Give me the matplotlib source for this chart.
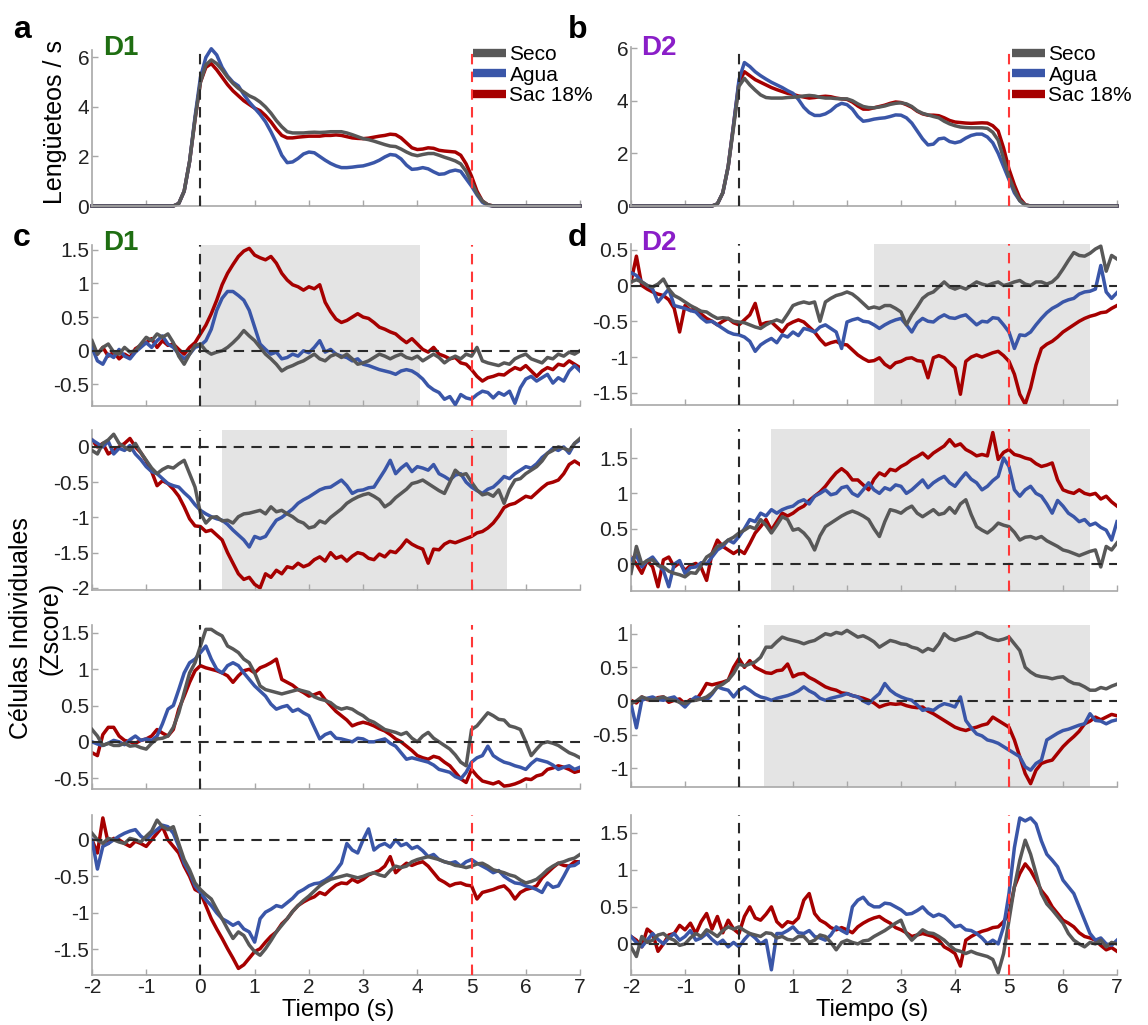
"""Lick rate and single-cell z-score traces for D1 and D2 neurons."""

import matplotlib.pyplot as plt
import numpy as np
from matplotlib.lines import Line2D

plt.rcParams["font.family"] = ["Liberation Sans", "DejaVu Sans"]
plt.rcParams["axes.unicode_minus"] = False

W, H = 1148, 1025

# ---------------------------------------------------------------- lick rates
# time base: -2, then -0.6 .. 5.6 every 0.1 s, then 7
t_lick = np.concatenate(([-2.0], np.round(np.arange(-0.6, 5.65, 0.1), 1), [7.0]))

lick_d1_seco = [
    0.0,
    0.0, 0.0, 0.1, 0.6, 1.8, 3.5, 5.0,
    5.7, 5.9, 5.75, 5.5, 5.2, 4.95, 4.75, 4.6, 4.45, 4.35,
    4.2, 4.0, 3.75, 3.45, 3.2, 3.0, 2.95, 2.95, 2.95, 2.97,
    2.98, 2.97, 2.98, 3.0, 3.0, 3.0, 2.95, 2.88, 2.8, 2.72,
    2.68, 2.62, 2.55, 2.48, 2.42, 2.4, 2.3, 2.18, 2.08, 2.03,
    2.08, 2.12, 2.12, 2.05, 1.97, 1.9, 1.82, 1.7, 1.4, 0.95,
    0.5, 0.2, 0.05, 0.0, 0.0, 0.0,
    0.0,
]
lick_d1_agua = [
    0.0,
    0.0, 0.0, 0.1, 0.6, 1.8, 3.6, 5.2,
    6.0, 6.35, 6.1, 5.6, 5.25, 5.0, 4.85, 4.5, 4.2, 3.95,
    3.7, 3.4, 3.0, 2.55, 2.05, 1.75, 1.78, 1.92, 2.1, 2.18,
    2.15, 2.0, 1.85, 1.72, 1.62, 1.55, 1.55, 1.57, 1.6, 1.62,
    1.68, 1.75, 1.85, 1.98, 2.08, 2.05, 1.9, 1.65, 1.48, 1.5,
    1.55, 1.5, 1.38, 1.28, 1.3, 1.4, 1.45, 1.4, 1.1, 0.8,
    0.45, 0.15, 0.03, 0.0, 0.0, 0.0,
    0.0,
]
lick_d1_sac = [
    0.0,
    0.0, 0.0, 0.1, 0.6, 1.8, 3.5, 5.0,
    5.6, 5.75, 5.5, 5.2, 4.9, 4.65, 4.45, 4.25, 4.1, 3.95,
    3.85, 3.65, 3.4, 3.1, 2.85, 2.75, 2.75, 2.78, 2.8, 2.82,
    2.82, 2.82, 2.85, 2.85, 2.87, 2.85, 2.8, 2.75, 2.73, 2.72,
    2.74, 2.78, 2.82, 2.85, 2.9, 2.88, 2.75, 2.55, 2.35, 2.28,
    2.3, 2.35, 2.33, 2.25, 2.22, 2.2, 2.18, 2.05, 1.7, 1.2,
    0.6, 0.2, 0.05, 0.0, 0.0, 0.0,
    0.0,
]

lick_d2_seco = [
    0.0,
    0.0, 0.0, 0.08, 0.5, 1.5, 3.0, 4.55,
    4.85, 4.6, 4.4, 4.22, 4.12, 4.1, 4.1, 4.1, 4.12, 4.13,
    4.15, 4.18, 4.2, 4.18, 4.13, 4.1, 4.1, 4.08, 4.07, 4.07,
    4.0, 3.88, 3.78, 3.74, 3.73, 3.76, 3.8, 3.86, 3.9, 3.92,
    3.88, 3.78, 3.62, 3.52, 3.46, 3.4, 3.35, 3.22, 3.12, 3.05,
    3.0, 2.98, 2.97, 2.97, 2.97, 2.95, 2.8, 2.5, 1.8, 1.1,
    0.6, 0.2, 0.04, 0.0, 0.0, 0.0,
    0.0,
]
lick_d2_agua = [
    0.0,
    0.0, 0.0, 0.08, 0.5, 1.5, 3.1, 4.8,
    5.45, 5.3, 5.1, 4.95, 4.82, 4.7, 4.6, 4.5, 4.38, 4.28,
    4.05, 3.75, 3.55, 3.44, 3.44, 3.5, 3.62, 3.8, 3.9, 3.85,
    3.68, 3.4, 3.22, 3.25, 3.3, 3.33, 3.35, 3.4, 3.46, 3.45,
    3.35, 3.15, 2.85, 2.55, 2.32, 2.35, 2.55, 2.58, 2.45, 2.4,
    2.45, 2.58, 2.68, 2.73, 2.73, 2.62, 2.4, 2.0, 1.5, 1.0,
    0.5, 0.2, 0.03, 0.0, 0.0, 0.0,
    0.0,
]
lick_d2_sac = [
    0.0,
    0.0, 0.0, 0.08, 0.5, 1.5, 3.1, 4.7,
    5.1, 4.95, 4.8, 4.7, 4.6, 4.5, 4.42, 4.35, 4.28, 4.24,
    4.18, 4.14, 4.1, 4.12, 4.15, 4.17, 4.15, 4.1, 4.07, 4.05,
    3.95, 3.8, 3.68, 3.68, 3.73, 3.78, 3.83, 3.9, 3.95, 3.93,
    3.85, 3.75, 3.6, 3.5, 3.45, 3.45, 3.43, 3.35, 3.25, 3.19,
    3.17, 3.15, 3.14, 3.15, 3.16, 3.15, 3.05, 2.85, 2.2, 1.4,
    0.8, 0.3, 0.05, 0.0, 0.0, 0.0,
    0.0,
]

# ---------------------------------------------------------------- single cells
# z-scores every 0.1 s from -2 to 7 s (one row = 1 s)
t_cell = np.round(np.linspace(-2.0, 7.0, 91), 1)

d1_cell1_seco = [
    0.15, -0.05, 0.05, 0.1, -0.02, -0.05, 0.05, -0.02, 0.0, 0.1,
    0.2, 0.15, 0.25, 0.2, 0.25, 0.12, -0.08, -0.2, -0.05, 0.08,
    0.1, 0.0, -0.05, -0.02, 0.0, 0.05, 0.12, 0.2, 0.3, 0.22,
    0.15, 0.05, -0.05, -0.12, -0.2, -0.3, -0.25, -0.22, -0.18, -0.15,
    -0.1, -0.05, -0.12, -0.15, -0.08, -0.05, -0.1, -0.05, -0.12, -0.2,
    -0.18, -0.15, -0.1, -0.05, -0.08, -0.12, -0.08, -0.05, -0.1, -0.12,
    -0.08, -0.15, -0.1, -0.05, -0.1, -0.18, -0.12, -0.08, -0.12, -0.05,
    -0.08, 0.05, -0.15, -0.18, -0.2, -0.22, -0.18, -0.2, -0.12, -0.08,
    -0.05, -0.12, -0.15, -0.18, -0.1, -0.12, -0.05, -0.08, -0.02, -0.05,
    0.0,
]
d1_cell1_agua = [
    0.05, -0.15, -0.2, -0.05, -0.1, 0.02, -0.08, -0.12, -0.02, 0.05,
    0.12, 0.05, 0.15, 0.22, 0.1, 0.05, -0.05, -0.12, -0.05, 0.05,
    0.08, 0.15, 0.32, 0.6, 0.78, 0.88, 0.88, 0.82, 0.75, 0.6,
    0.35, 0.1, 0.02, -0.05, -0.02, -0.12, -0.1, -0.05, -0.08, 0.0,
    -0.03, 0.05, 0.15, -0.02, 0.02, -0.05, -0.08, -0.1, -0.15, -0.12,
    -0.2, -0.22, -0.25, -0.28, -0.3, -0.32, -0.35, -0.3, -0.28, -0.3,
    -0.35, -0.42, -0.52, -0.58, -0.62, -0.72, -0.68, -0.8, -0.65, -0.7,
    -0.72, -0.65, -0.6, -0.62, -0.7, -0.62, -0.66, -0.6, -0.78, -0.55,
    -0.42, -0.38, -0.45, -0.4, -0.35, -0.48, -0.4, -0.45, -0.3, -0.22,
    -0.3,
]
d1_cell1_sac = [
    0.02, -0.05, 0.05, -0.08, -0.02, -0.12, -0.05, -0.1, 0.03, 0.08,
    0.12, 0.18, 0.05, 0.15, 0.08, 0.1, 0.02, -0.05, 0.05, 0.12,
    0.25, 0.38, 0.55, 0.75, 0.98, 1.15, 1.28, 1.4, 1.48, 1.52,
    1.42, 1.38, 1.35, 1.4, 1.3, 1.15, 1.05, 0.98, 0.95, 0.9,
    0.95, 0.92, 0.98, 0.72, 0.58, 0.47, 0.42, 0.45, 0.5, 0.55,
    0.5, 0.48, 0.42, 0.35, 0.32, 0.28, 0.25, 0.18, 0.12, 0.18,
    0.1, 0.02, -0.02, 0.05, -0.05, -0.08, -0.12, -0.1, -0.18, -0.2,
    -0.28, -0.38, -0.45, -0.4, -0.38, -0.35, -0.36, -0.3, -0.25, -0.28,
    -0.22, -0.3, -0.38, -0.3, -0.25, -0.28, -0.2, -0.22, -0.15, -0.2,
    -0.25,
]

d1_cell2_seco = [
    -0.05, -0.1, 0.05, 0.1, 0.18, 0.05, 0.0, -0.05, 0.05, -0.08,
    -0.19, -0.3, -0.38, -0.32, -0.28, -0.3, -0.24, -0.19, -0.38, -0.57,
    -0.94, -1.08, -1.0, -0.99, -1.05, -1.04, -1.08, -0.99, -0.95, -0.94,
    -0.92, -0.9, -0.95, -0.85, -0.92, -0.9, -0.95, -0.99, -1.05, -1.08,
    -1.15, -1.13, -1.05, -1.08, -1.0, -0.94, -0.88, -0.8, -0.75, -0.71,
    -0.68, -0.66, -0.7, -0.75, -0.85, -0.8, -0.72, -0.66, -0.6, -0.52,
    -0.5, -0.47, -0.52, -0.57, -0.62, -0.66, -0.5, -0.33, -0.4, -0.38,
    -0.5, -0.61, -0.68, -0.66, -0.7, -0.61, -0.8, -0.6, -0.47, -0.45,
    -0.38, -0.33, -0.28, -0.2, -0.09, -0.05, 0.0, -0.02, -0.05, 0.05,
    0.12,
]
d1_cell2_agua = [
    0.1, 0.05, 0.0, 0.08, -0.1, -0.02, -0.05, 0.02, -0.1, -0.18,
    -0.28, -0.35, -0.38, -0.45, -0.52, -0.55, -0.57, -0.65, -0.72, -0.82,
    -0.9, -0.95, -0.99, -1.02, -1.04, -1.1, -1.18, -1.25, -1.32, -1.42,
    -1.27, -1.3, -1.27, -1.15, -1.04, -1.0, -0.94, -0.88, -0.8, -0.75,
    -0.71, -0.66, -0.61, -0.58, -0.57, -0.52, -0.47, -0.55, -0.66, -0.62,
    -0.61, -0.58, -0.57, -0.45, -0.33, -0.19, -0.38, -0.3, -0.24, -0.35,
    -0.28, -0.3, -0.33, -0.25, -0.38, -0.42, -0.47, -0.4, -0.38, -0.5,
    -0.57, -0.62, -0.66, -0.6, -0.57, -0.5, -0.42, -0.45, -0.38, -0.33,
    -0.28, -0.3, -0.24, -0.15, -0.09, -0.02, -0.05, 0.0, -0.09, 0.05,
    0.1,
]
d1_cell2_sac = [
    0.1, 0.0, 0.05, -0.1, -0.05, 0.0, 0.05, 0.12, 0.0, -0.08,
    -0.2, -0.35, -0.55, -0.48, -0.52, -0.6, -0.7, -0.85, -1.02, -1.12,
    -1.13, -1.2, -1.18, -1.25, -1.32, -1.5, -1.65, -1.8, -1.88, -1.85,
    -1.95, -2.0, -1.8, -1.85, -1.75, -1.8, -1.7, -1.72, -1.65, -1.7,
    -1.67, -1.6, -1.56, -1.62, -1.5, -1.58, -1.55, -1.62, -1.55, -1.5,
    -1.52, -1.58, -1.6, -1.52, -1.56, -1.48, -1.5, -1.42, -1.32, -1.38,
    -1.42, -1.45, -1.65, -1.45, -1.46, -1.38, -1.34, -1.36, -1.33, -1.3,
    -1.27, -1.22, -1.2, -1.15, -1.08, -0.98, -0.86, -0.82, -0.8, -0.75,
    -0.7, -0.72, -0.65, -0.58, -0.52, -0.5, -0.47, -0.38, -0.25, -0.2,
    -0.25,
]

d1_cell3_seco = [
    0.17, 0.08, -0.05, -0.02, -0.05, -0.05, -0.02, -0.06, -0.05, -0.08,
    -0.1, -0.02, 0.04, 0.05, 0.08, 0.2, 0.4, 0.68, 0.95, 1.09,
    1.32, 1.55, 1.55, 1.5, 1.46, 1.32, 1.28, 1.23, 1.14, 1.09,
    0.95, 0.77, 0.72, 0.7, 0.68, 0.66, 0.68, 0.7, 0.72, 0.7,
    0.68, 0.62, 0.59, 0.57, 0.54, 0.48, 0.45, 0.47, 0.45, 0.4,
    0.36, 0.3, 0.27, 0.22, 0.17, 0.15, 0.13, 0.1, 0.13, 0.05,
    0.0, 0.08, 0.13, 0.05, 0.0, -0.05, -0.1, -0.18, -0.28, -0.33,
    0.17, 0.22, 0.31, 0.4, 0.36, 0.31, 0.3, 0.22, 0.2, 0.17,
    0.0, -0.19, -0.1, -0.02, 0.0, -0.02, -0.05, -0.1, -0.15, -0.18,
    -0.22,
]
d1_cell3_agua = [
    0.0, -0.03, -0.05, -0.02, 0.02, 0.0, -0.04, 0.03, 0.08, 0.02,
    0.04, 0.02, 0.08, 0.25, 0.45, 0.5, 0.72, 0.95, 1.09, 1.14,
    1.23, 1.32, 1.14, 1.0, 0.95, 1.05, 1.09, 1.05, 0.95, 0.86,
    0.77, 0.7, 0.63, 0.52, 0.45, 0.48, 0.5, 0.42, 0.45, 0.4,
    0.36, 0.2, 0.04, 0.1, 0.13, 0.05, 0.04, 0.02, 0.0, 0.05,
    0.04, 0.0, 0.0, 0.02, 0.04, -0.02, -0.06, -0.15, -0.24, -0.22,
    -0.24, -0.26, -0.28, -0.32, -0.38, -0.4, -0.42, -0.48, -0.51, -0.42,
    -0.28, -0.22, -0.19, -0.06, -0.19, -0.24, -0.28, -0.3, -0.33, -0.35,
    -0.38, -0.3, -0.24, -0.26, -0.28, -0.32, -0.38, -0.35, -0.33, -0.38,
    -0.35,
]
d1_cell3_sac = [
    -0.15, -0.19, 0.1, 0.2, 0.2, 0.08, 0.02, 0.0, -0.02, 0.02,
    0.04, 0.08, 0.17, 0.12, 0.08, 0.17, 0.45, 0.63, 0.82, 0.98,
    1.05, 1.02, 1.0, 0.98, 0.95, 0.91, 0.82, 0.91, 0.98, 1.0,
    0.95, 1.02, 1.05, 1.09, 1.14, 0.86, 0.82, 0.78, 0.72, 0.68,
    0.63, 0.65, 0.68, 0.58, 0.5, 0.42, 0.36, 0.3, 0.22, 0.25,
    0.27, 0.25, 0.22, 0.18, 0.15, 0.1, 0.04, 0.0, -0.06, -0.12,
    -0.19, -0.22, -0.24, -0.2, -0.22, -0.28, -0.33, -0.42, -0.51, -0.56,
    -0.38, -0.47, -0.54, -0.56, -0.58, -0.55, -0.61, -0.6, -0.58, -0.55,
    -0.51, -0.52, -0.47, -0.45, -0.38, -0.36, -0.33, -0.35, -0.38, -0.42,
    -0.4,
]

d1_cell4_seco = [
    0.09, 0.0, -0.05, 0.02, 0.0, -0.03, -0.05, 0.02, 0.0, -0.03,
    0.05, 0.12, 0.27, 0.18, 0.14, 0.18, -0.05, -0.27, -0.41, -0.59,
    -0.68, -0.75, -0.81, -0.95, -1.08, -1.22, -1.35, -1.26, -1.31, -1.44,
    -1.53, -1.58, -1.49, -1.38, -1.26, -1.17, -1.08, -0.98, -0.9, -0.83,
    -0.77, -0.7, -0.63, -0.58, -0.54, -0.52, -0.5, -0.48, -0.5, -0.52,
    -0.5, -0.47, -0.45, -0.48, -0.5, -0.42, -0.36, -0.38, -0.36, -0.3,
    -0.27, -0.25, -0.23, -0.25, -0.27, -0.3, -0.32, -0.35, -0.36, -0.38,
    -0.36, -0.33, -0.32, -0.36, -0.41, -0.43, -0.45, -0.48, -0.5, -0.55,
    -0.59, -0.57, -0.54, -0.48, -0.41, -0.36, -0.32, -0.3, -0.27, -0.25,
    -0.2,
]
d1_cell4_agua = [
    0.0, -0.4, -0.09, -0.05, 0.0, 0.05, 0.09, 0.12, 0.14, 0.05,
    0.0, 0.08, 0.14, 0.2, 0.18, 0.09, -0.09, -0.32, -0.45, -0.63,
    -0.72, -0.82, -0.9, -1.0, -1.08, -1.12, -1.17, -1.13, -1.22, -1.26,
    -1.4, -1.08, -0.99, -0.95, -0.9, -0.92, -0.86, -0.8, -0.72, -0.68,
    -0.63, -0.6, -0.59, -0.55, -0.5, -0.42, -0.32, -0.05, -0.14, -0.18,
    0.0, 0.15, -0.14, -0.08, -0.05, -0.1, 0.0, -0.08, -0.05, -0.12,
    -0.09, -0.15, -0.23, -0.2, -0.27, -0.3, -0.32, -0.3, -0.36, -0.3,
    -0.27, -0.32, -0.36, -0.4, -0.45, -0.42, -0.5, -0.55, -0.59, -0.6,
    -0.63, -0.65, -0.68, -0.72, -0.59, -0.65, -0.63, -0.5, -0.36, -0.35,
    -0.3,
]
d1_cell4_sac = [
    0.0, -0.18, 0.3, -0.05, 0.02, 0.0, -0.05, -0.09, -0.02, -0.05,
    -0.09, 0.0, 0.09, 0.18, 0.0, -0.09, -0.18, -0.36, -0.5, -0.68,
    -0.72, -0.9, -1.08, -1.22, -1.35, -1.49, -1.62, -1.76, -1.71, -1.62,
    -1.53, -1.49, -1.4, -1.32, -1.26, -1.15, -1.08, -0.98, -0.9, -0.85,
    -0.81, -0.78, -0.72, -0.75, -0.68, -0.62, -0.59, -0.6, -0.54, -0.58,
    -0.54, -0.48, -0.45, -0.42, -0.36, -0.23, -0.45, -0.38, -0.32, -0.35,
    -0.32, -0.3, -0.36, -0.45, -0.54, -0.58, -0.63, -0.6, -0.59, -0.62,
    -0.63, -0.81, -0.72, -0.7, -0.68, -0.65, -0.63, -0.7, -0.81, -0.72,
    -0.68, -0.66, -0.63, -0.52, -0.45, -0.38, -0.32, -0.35, -0.36, -0.3,
    -0.3,
]

d2_cell1_seco = [
    0.05, 0.08, 0.05, 0.0, -0.02, 0.02, 0.09, -0.05, -0.14, -0.18,
    -0.23, -0.28, -0.32, -0.36, -0.37, -0.42, -0.46, -0.45, -0.46, -0.5,
    -0.51, -0.52, -0.55, -0.58, -0.6, -0.55, -0.51, -0.48, -0.51, -0.4,
    -0.28, -0.25, -0.23, -0.25, -0.23, -0.5, -0.23, -0.18, -0.14, -0.12,
    -0.09, -0.12, -0.18, -0.25, -0.32, -0.3, -0.32, -0.28, -0.28, -0.32,
    -0.37, -0.55, -0.41, -0.3, -0.18, -0.12, -0.09, -0.02, 0.05, -0.02,
    -0.05, -0.02, -0.05, 0.0, 0.05, 0.02, 0.0, 0.03, 0.05, 0.0,
    0.02, 0.05, 0.07, 0.02, 0.0, 0.05, 0.05, 0.02, 0.05, 0.12,
    0.23, 0.35, 0.46, 0.42, 0.41, 0.45, 0.51, 0.55, 0.2, 0.42,
    0.37,
]
d2_cell1_agua = [
    0.18, 0.14, 0.05, 0.0, -0.05, -0.23, -0.14, -0.05, -0.28, -0.3,
    -0.32, -0.35, -0.37, -0.45, -0.51, -0.5, -0.55, -0.6, -0.65, -0.68,
    -0.69, -0.72, -0.78, -0.92, -0.83, -0.78, -0.74, -0.8, -0.69, -0.72,
    -0.65, -0.7, -0.6, -0.62, -0.65, -0.58, -0.55, -0.6, -0.65, -0.88,
    -0.51, -0.48, -0.46, -0.5, -0.51, -0.55, -0.6, -0.55, -0.51, -0.48,
    -0.46, -0.55, -0.65, -0.52, -0.46, -0.5, -0.51, -0.45, -0.41, -0.45,
    -0.46, -0.43, -0.41, -0.48, -0.55, -0.5, -0.51, -0.45, -0.46, -0.55,
    -0.65, -0.88, -0.69, -0.7, -0.65, -0.55, -0.46, -0.38, -0.32, -0.28,
    -0.23, -0.2, -0.18, -0.12, -0.09, -0.08, -0.05, 0.28, -0.09, -0.18,
    -0.1,
]
d2_cell1_sac = [
    0.05, 0.41, 0.0, -0.05, -0.09, -0.12, -0.14, -0.2, -0.32, -0.65,
    -0.28, -0.35, -0.32, -0.4, -0.46, -0.5, -0.55, -0.5, -0.46, -0.52,
    -0.55, -0.48, -0.41, -0.25, -0.55, -0.52, -0.51, -0.58, -0.65, -0.55,
    -0.51, -0.48, -0.51, -0.58, -0.65, -0.75, -0.83, -0.8, -0.78, -0.82,
    -0.83, -0.9, -0.97, -1.02, -1.06, -1.05, -1.01, -1.1, -1.15, -1.08,
    -1.06, -1.02, -1.01, -1.05, -1.06, -1.29, -1.01, -0.98, -1.01, -1.08,
    -1.15, -1.52, -1.06, -1.0, -0.97, -1.0, -0.97, -0.94, -0.92, -0.98,
    -1.06, -1.24, -1.52, -1.66, -1.43, -1.11, -0.88, -0.82, -0.78, -0.72,
    -0.65, -0.6, -0.55, -0.5, -0.46, -0.43, -0.41, -0.38, -0.37, -0.32,
    -0.28,
]

d2_cell2_seco = [
    -0.13, 0.25, 0.0, 0.05, 0.06, -0.02, -0.04, -0.1, -0.13, -0.15,
    -0.18, -0.12, -0.13, -0.02, 0.1, 0.15, 0.25, 0.28, 0.34, 0.38,
    0.44, 0.48, 0.53, 0.5, 0.63, 0.55, 0.44, 0.55, 0.67, 0.63,
    0.48, 0.5, 0.44, 0.35, 0.2, 0.4, 0.53, 0.58, 0.63, 0.68,
    0.72, 0.75, 0.72, 0.68, 0.63, 0.5, 0.39, 0.6, 0.77, 0.75,
    0.72, 0.78, 0.82, 0.72, 0.67, 0.72, 0.77, 0.7, 0.72, 0.8,
    0.72, 0.85, 0.91, 0.7, 0.53, 0.48, 0.44, 0.5, 0.58, 0.55,
    0.53, 0.45, 0.34, 0.38, 0.39, 0.36, 0.39, 0.33, 0.29, 0.25,
    0.2, 0.18, 0.15, 0.12, 0.15, 0.18, 0.2, -0.04, 0.25, 0.2,
    0.3,
]
d2_cell2_agua = [
    0.06, 0.12, -0.04, 0.05, 0.1, 0.0, -0.09, -0.32, 0.0, 0.05,
    -0.13, -0.05, -0.04, 0.02, 0.0, 0.1, 0.2, 0.25, 0.34, 0.3,
    0.39, 0.5, 0.63, 0.6, 0.72, 0.68, 0.77, 0.72, 0.77, 0.8,
    0.82, 0.88, 0.91, 0.85, 0.96, 1.0, 1.05, 0.98, 1.0, 1.08,
    1.1, 1.0, 0.96, 1.05, 1.15, 1.05, 1.0, 1.08, 1.05, 1.12,
    1.1, 1.0, 1.05, 1.12, 1.19, 1.08, 1.15, 1.2, 1.24, 1.15,
    1.1, 1.2, 1.29, 1.2, 1.15, 1.05, 1.1, 1.18, 1.24, 1.5,
    1.38, 1.05, 0.96, 1.05, 1.1, 1.0, 0.96, 0.85, 0.72, 0.9,
    0.82, 0.72, 0.67, 0.6, 0.63, 0.55, 0.58, 0.52, 0.48, 0.34,
    0.6,
]
d2_cell2_sac = [
    0.1, 0.0, -0.13, 0.05, -0.04, -0.32, 0.06, 0.1, -0.04, 0.02,
    -0.09, -0.02, 0.01, -0.05, -0.23, 0.15, 0.34, 0.25, 0.2, 0.15,
    0.2, 0.15, 0.29, 0.44, 0.53, 0.63, 0.48, 0.6, 0.72, 0.68,
    0.72, 0.78, 0.82, 0.9, 0.96, 1.02, 1.1, 1.2, 1.29, 1.35,
    1.29, 1.19, 1.19, 1.12, 1.05, 1.2, 1.29, 1.25, 1.34, 1.32,
    1.38, 1.42, 1.48, 1.52, 1.57, 1.5, 1.57, 1.62, 1.67, 1.76,
    1.67, 1.7, 1.62, 1.58, 1.53, 1.55, 1.53, 1.86, 1.48, 1.58,
    1.62, 1.55, 1.53, 1.5, 1.48, 1.42, 1.38, 1.4, 1.43, 1.19,
    1.05, 1.02, 1.0, 1.05, 1.0, 0.98, 1.0, 0.92, 0.96, 0.88,
    0.82,
]

d2_cell3_seco = [
    -0.04, 0.0, 0.06, 0.03, 0.01, 0.04, 0.06, 0.02, 0.01, -0.02,
    -0.04, 0.0, 0.01, 0.03, 0.06, 0.12, 0.21, 0.25, 0.31, 0.41,
    0.55, 0.52, 0.55, 0.58, 0.65, 0.8, 0.8, 0.88, 0.95, 0.92,
    0.9, 0.88, 0.85, 0.88, 0.9, 0.95, 1.0, 0.98, 1.02, 1.0,
    1.05, 1.0, 0.95, 0.97, 0.93, 0.88, 0.8, 0.85, 0.9, 0.88,
    0.85, 0.84, 0.8, 0.78, 0.73, 0.78, 0.75, 0.85, 1.0, 0.93,
    0.9, 0.93, 0.95, 0.98, 1.02, 1.0, 0.95, 0.92, 0.9, 0.92,
    0.95, 0.85, 0.75, 0.5, 0.43, 0.38, 0.36, 0.35, 0.33, 0.35,
    0.36, 0.3, 0.26, 0.25, 0.21, 0.16, 0.16, 0.2, 0.18, 0.22,
    0.25,
]
d2_cell3_agua = [
    -0.04, -0.4, 0.01, 0.04, 0.06, 0.02, 0.01, 0.04, 0.06, -0.02,
    -0.09, 0.0, 0.06, 0.03, 0.01, 0.1, 0.21, 0.18, 0.16, 0.06,
    0.16, 0.21, 0.16, 0.1, 0.06, 0.04, 0.01, 0.04, 0.06, 0.08,
    0.11, 0.15, 0.21, 0.15, 0.11, 0.04, 0.01, 0.04, 0.06, 0.08,
    0.11, 0.08, 0.06, 0.0, -0.04, 0.04, 0.11, 0.26, 0.16, 0.1,
    0.06, 0.03, 0.01, -0.06, -0.14, -0.12, -0.14, -0.08, -0.04, -0.06,
    -0.09, 0.06, -0.29, -0.4, -0.49, -0.52, -0.58, -0.6, -0.63, -0.68,
    -0.73, -0.78, -0.83, -0.98, -1.03, -0.93, -0.88, -0.58, -0.53, -0.48,
    -0.44, -0.42, -0.39, -0.36, -0.34, -0.19, -0.29, -0.3, -0.34, -0.3,
    -0.28,
]
d2_cell3_sac = [
    0.01, -0.03, 0.06, 0.02, 0.01, 0.05, 0.06, -0.02, 0.01, 0.03,
    -0.04, 0.02, 0.01, 0.12, 0.26, 0.24, 0.26, 0.28, 0.31, 0.5,
    0.63, 0.5, 0.6, 0.5, 0.46, 0.42, 0.41, 0.45, 0.46, 0.55,
    0.36, 0.4, 0.41, 0.35, 0.31, 0.26, 0.21, 0.18, 0.16, 0.12,
    0.11, 0.08, 0.06, 0.04, 0.01, -0.03, -0.09, -0.06, -0.04, -0.05,
    -0.04, -0.07, -0.09, -0.1, -0.09, -0.15, -0.19, -0.24, -0.29, -0.34,
    -0.39, -0.42, -0.44, -0.41, -0.39, -0.36, -0.34, -0.24, -0.29, -0.34,
    -0.39, -0.58, -0.83, -1.08, -1.23, -1.03, -0.93, -0.9, -0.88, -0.78,
    -0.68, -0.6, -0.53, -0.45, -0.34, -0.3, -0.24, -0.28, -0.24, -0.2,
    -0.22,
]

d2_cell4_seco = [
    -0.04, -0.17, 0.1, 0.02, 0.05, 0.12, 0.14, 0.08, 0.05, -0.02,
    0.0, 0.08, 0.14, 0.1, 0.19, 0.15, 0.1, 0.18, 0.23, 0.2,
    0.23, 0.18, 0.14, 0.12, 0.1, 0.15, 0.14, 0.08, 0.1, 0.06,
    0.05, 0.1, 0.1, 0.02, 0.05, 0.12, 0.1, 0.02, -0.08, 0.02,
    0.05, 0.02, 0.0, 0.04, 0.05, 0.1, 0.14, 0.18, 0.23, 0.28,
    0.32, 0.14, 0.05, 0.12, 0.19, 0.15, 0.14, 0.1, 0.05, -0.02,
    -0.08, -0.1, -0.13, -0.1, -0.13, -0.15, -0.17, -0.21, -0.39, -0.13,
    0.32, 0.77, 1.13, 1.4, 1.21, 0.95, 0.68, 0.54, 0.46, 0.37,
    0.28, 0.14, 0.05, 0.0, -0.04, 0.02, 0.0, 0.05, -0.04, 0.02,
    0.0,
]
d2_cell4_agua = [
    0.1, 0.02, -0.04, 0.05, 0.14, 0.06, 0.0, 0.08, 0.14, 0.05,
    0.1, 0.18, 0.05, 0.08, 0.14, 0.06, 0.0, 0.05, -0.04, 0.02,
    -0.04, 0.06, 0.14, 0.08, 0.0, 0.05, -0.35, 0.14, 0.14, 0.18,
    0.23, 0.15, 0.14, 0.18, 0.1, 0.08, 0.05, 0.12, 0.23, 0.18,
    0.14, 0.5, 0.59, 0.63, 0.54, 0.5, 0.5, 0.55, 0.54, 0.5,
    0.46, 0.4, 0.41, 0.45, 0.5, 0.42, 0.37, 0.4, 0.37, 0.3,
    0.23, 0.25, 0.19, 0.18, 0.14, 0.08, 0.0, 0.05, 0.0, 0.23,
    0.68, 1.3, 1.7, 1.66, 1.7, 1.62, 1.39, 1.21, 1.13, 1.04,
    0.86, 0.77, 0.68, 0.5, 0.32, 0.14, 0.05, 0.08, 0.0, -0.02,
    0.05,
]
d2_cell4_sac = [
    0.1, 0.05, -0.04, 0.2, 0.14, -0.1, 0.0, 0.12, 0.14, 0.25,
    0.19, 0.28, 0.14, 0.3, 0.41, 0.2, 0.37, 0.15, 0.32, 0.2,
    0.14, 0.37, 0.5, 0.35, 0.32, 0.4, 0.5, 0.3, 0.23, 0.3,
    0.28, 0.35, 0.59, 0.68, 0.41, 0.32, 0.28, 0.22, 0.19, 0.22,
    0.19, 0.15, 0.23, 0.28, 0.32, 0.35, 0.37, 0.32, 0.28, 0.22,
    0.19, 0.15, 0.1, 0.12, 0.14, 0.12, 0.1, 0.05, -0.04, -0.08,
    -0.13, -0.3, 0.05, 0.1, 0.14, 0.17, 0.19, 0.22, 0.23, 0.3,
    0.41, 0.77, 0.95, 1.08, 0.99, 0.86, 0.72, 0.63, 0.5, 0.41,
    0.32, 0.28, 0.23, 0.15, 0.1, 0.08, 0.05, -0.02, -0.08, -0.05,
    -0.1,
]

x_ticks = list(range(-2, 8))
labels = ["Seco", "Agua", "Sac 18%"]
colors = ["#585858", "#3a56a8", "#a60000"]

# (pixel box left, top, right, bottom), ylim, yticks, shaded window
left_cells = [
    ((92, 245, 580, 406), (-0.82, 1.57), [-0.5, 0, 0.5, 1, 1.5], (0.0, 4.05),
     (d1_cell1_seco, d1_cell1_agua, d1_cell1_sac)),
    ((92, 430, 580, 590), (-2.03, 0.24), [-2, -1.5, -1, -0.5, 0], (0.4, 5.65),
     (d1_cell2_seco, d1_cell2_agua, d1_cell2_sac)),
    ((92, 625, 580, 789), (-0.65, 1.61), [-0.5, 0, 0.5, 1, 1.5], None,
     (d1_cell3_seco, d1_cell3_agua, d1_cell3_sac)),
    ((92, 815, 580, 975), (-1.85, 0.34), [-1.5, -1, -0.5, 0], None,
     (d1_cell4_seco, d1_cell4_agua, d1_cell4_sac)),
]
right_cells = [
    ((631, 244, 1117, 405), (-1.67, 0.58), [-1.5, -1, -0.5, 0, 0.5], (2.5, 6.5),
     (d2_cell1_seco, d2_cell1_agua, d2_cell1_sac)),
    ((631, 429, 1117, 591), (-0.38, 1.91), [0, 0.5, 1, 1.5], (0.6, 6.5),
     (d2_cell2_seco, d2_cell2_agua, d2_cell2_sac)),
    ((631, 625, 1117, 787), (-1.28, 1.13), [-1, -0.5, 0, 0.5, 1], (0.46, 6.5),
     (d2_cell3_seco, d2_cell3_agua, d2_cell3_sac)),
    ((631, 815, 1117, 975), (-0.42, 1.74), [0, 0.5, 1, 1.5], None,
     (d2_cell4_seco, d2_cell4_agua, d2_cell4_sac)),
]


def px_rect(box):
    left, top, right, bottom = box
    return [left / W, 1 - bottom / H, (right - left) / W, (bottom - top) / H]


def fx(x):
    return x / W


def fy(y):
    return 1 - y / H


def style_axes(ax, ylim, yticks, show_xlabels):
    ax.set_xlim(-2, 7)
    ax.set_ylim(*ylim)
    ax.set_xticks(x_ticks)
    ax.set_yticks(yticks)
    ax.yaxis.set_major_formatter(plt.FormatStrFormatter("%g"))
    for side in ("top", "right"):
        ax.spines[side].set_visible(False)
    for side in ("left", "bottom"):
        ax.spines[side].set_color("#a8a8a8")
        ax.spines[side].set_linewidth(1.2)
    ax.tick_params(direction="in", length=4, width=1, color="#a8a8a8",
                   labelsize=15, labelcolor="#222222", pad=2)
    if not show_xlabels:
        ax.set_xticklabels([])
    ax.set_facecolor("none")


def event_lines(ax, zero_line=True):
    ax.axvline(0, color="#2a2a2a", lw=1.5, dashes=(5, 3.5), zorder=5)
    ax.axvline(5, color="#ff3838", lw=1.5, dashes=(5, 3.5), zorder=5)
    if zero_line:
        ax.axhline(0, color="#2a2a2a", lw=1.5, dashes=(5, 3.5), zorder=5)


fig = plt.figure(figsize=(W / 100, H / 100), dpi=100)

# top row: lick rate
top_panels = [
    ((92, 50, 580, 206), (0, 6.3), (lick_d1_seco, lick_d1_agua, lick_d1_sac), 473),
    ((631, 47, 1117, 206), (0, 6.04), (lick_d2_seco, lick_d2_agua, lick_d2_sac), 1012),
]
for box, ylim, series, leg_x in top_panels:
    ax = fig.add_axes(px_rect(box))
    for idx in (2, 1, 0):
        ax.plot(t_lick, series[idx], color=colors[idx], lw=2.5, clip_on=False,
                solid_joinstyle="round")
    event_lines(ax, zero_line=False)
    style_axes(ax, ylim, [0, 2, 4, 6], show_xlabels=False)
    handles = [Line2D([], [], color=c, lw=6, solid_capstyle="butt") for c in colors]
    ax.legend(handles, labels, loc="upper left", bbox_to_anchor=(fx(leg_x), fy(45)),
              bbox_transform=fig.transFigure, frameon=False, fontsize=15,
              handlelength=1.6, handletextpad=0.15, labelspacing=0.08,
              borderpad=0, borderaxespad=0)

# single-cell rows
for col in (left_cells, right_cells):
    for row, (box, ylim, yticks, shade, series) in enumerate(col):
        ax = fig.add_axes(px_rect(box))
        if shade is not None:
            ax.axvspan(shade[0], shade[1], color="#e4e4e4", lw=0, zorder=0)
        for idx in (2, 1, 0):
            ax.plot(t_cell, series[idx], color=colors[idx], lw=2.5,
                    solid_joinstyle="round", zorder=2 + (2 - idx))
        event_lines(ax)
        style_axes(ax, ylim, yticks, show_xlabels=(row == 3))

# panel letters and group names
for letter, x, y in [("a", 13, 38), ("b", 568, 38), ("c", 13, 246), ("d", 568, 246)]:
    fig.text(fx(x), fy(y), letter, fontsize=23, fontweight="bold", va="baseline")
for name, color, x, y in [("D1", "#1f6e12", 103, 55), ("D2", "#8a1ec8", 641, 55),
                          ("D1", "#1f6e12", 103, 250), ("D2", "#8a1ec8", 641, 250)]:
    fig.text(fx(x), fy(y), name, fontsize=20, fontweight="bold", color=color,
             va="baseline")

# axis labels
fig.text(fx(55), fy(122), "Lengüeteos / s", rotation=90, fontsize=18,
         ha="center", va="center")
fig.text(fx(21), fy(628), "Células Individuales", rotation=90, fontsize=18,
         ha="center", va="center")
fig.text(fx(51), fy(628), "(Zscore)", rotation=90, fontsize=18,
         ha="center", va="center")
fig.text(fx(338), fy(1010), "Tiempo (s)", fontsize=17, ha="center", va="center")
fig.text(fx(872), fy(1010), "Tiempo (s)", fontsize=17, ha="center", va="center")

fig.savefig("out.png", dpi=100)
